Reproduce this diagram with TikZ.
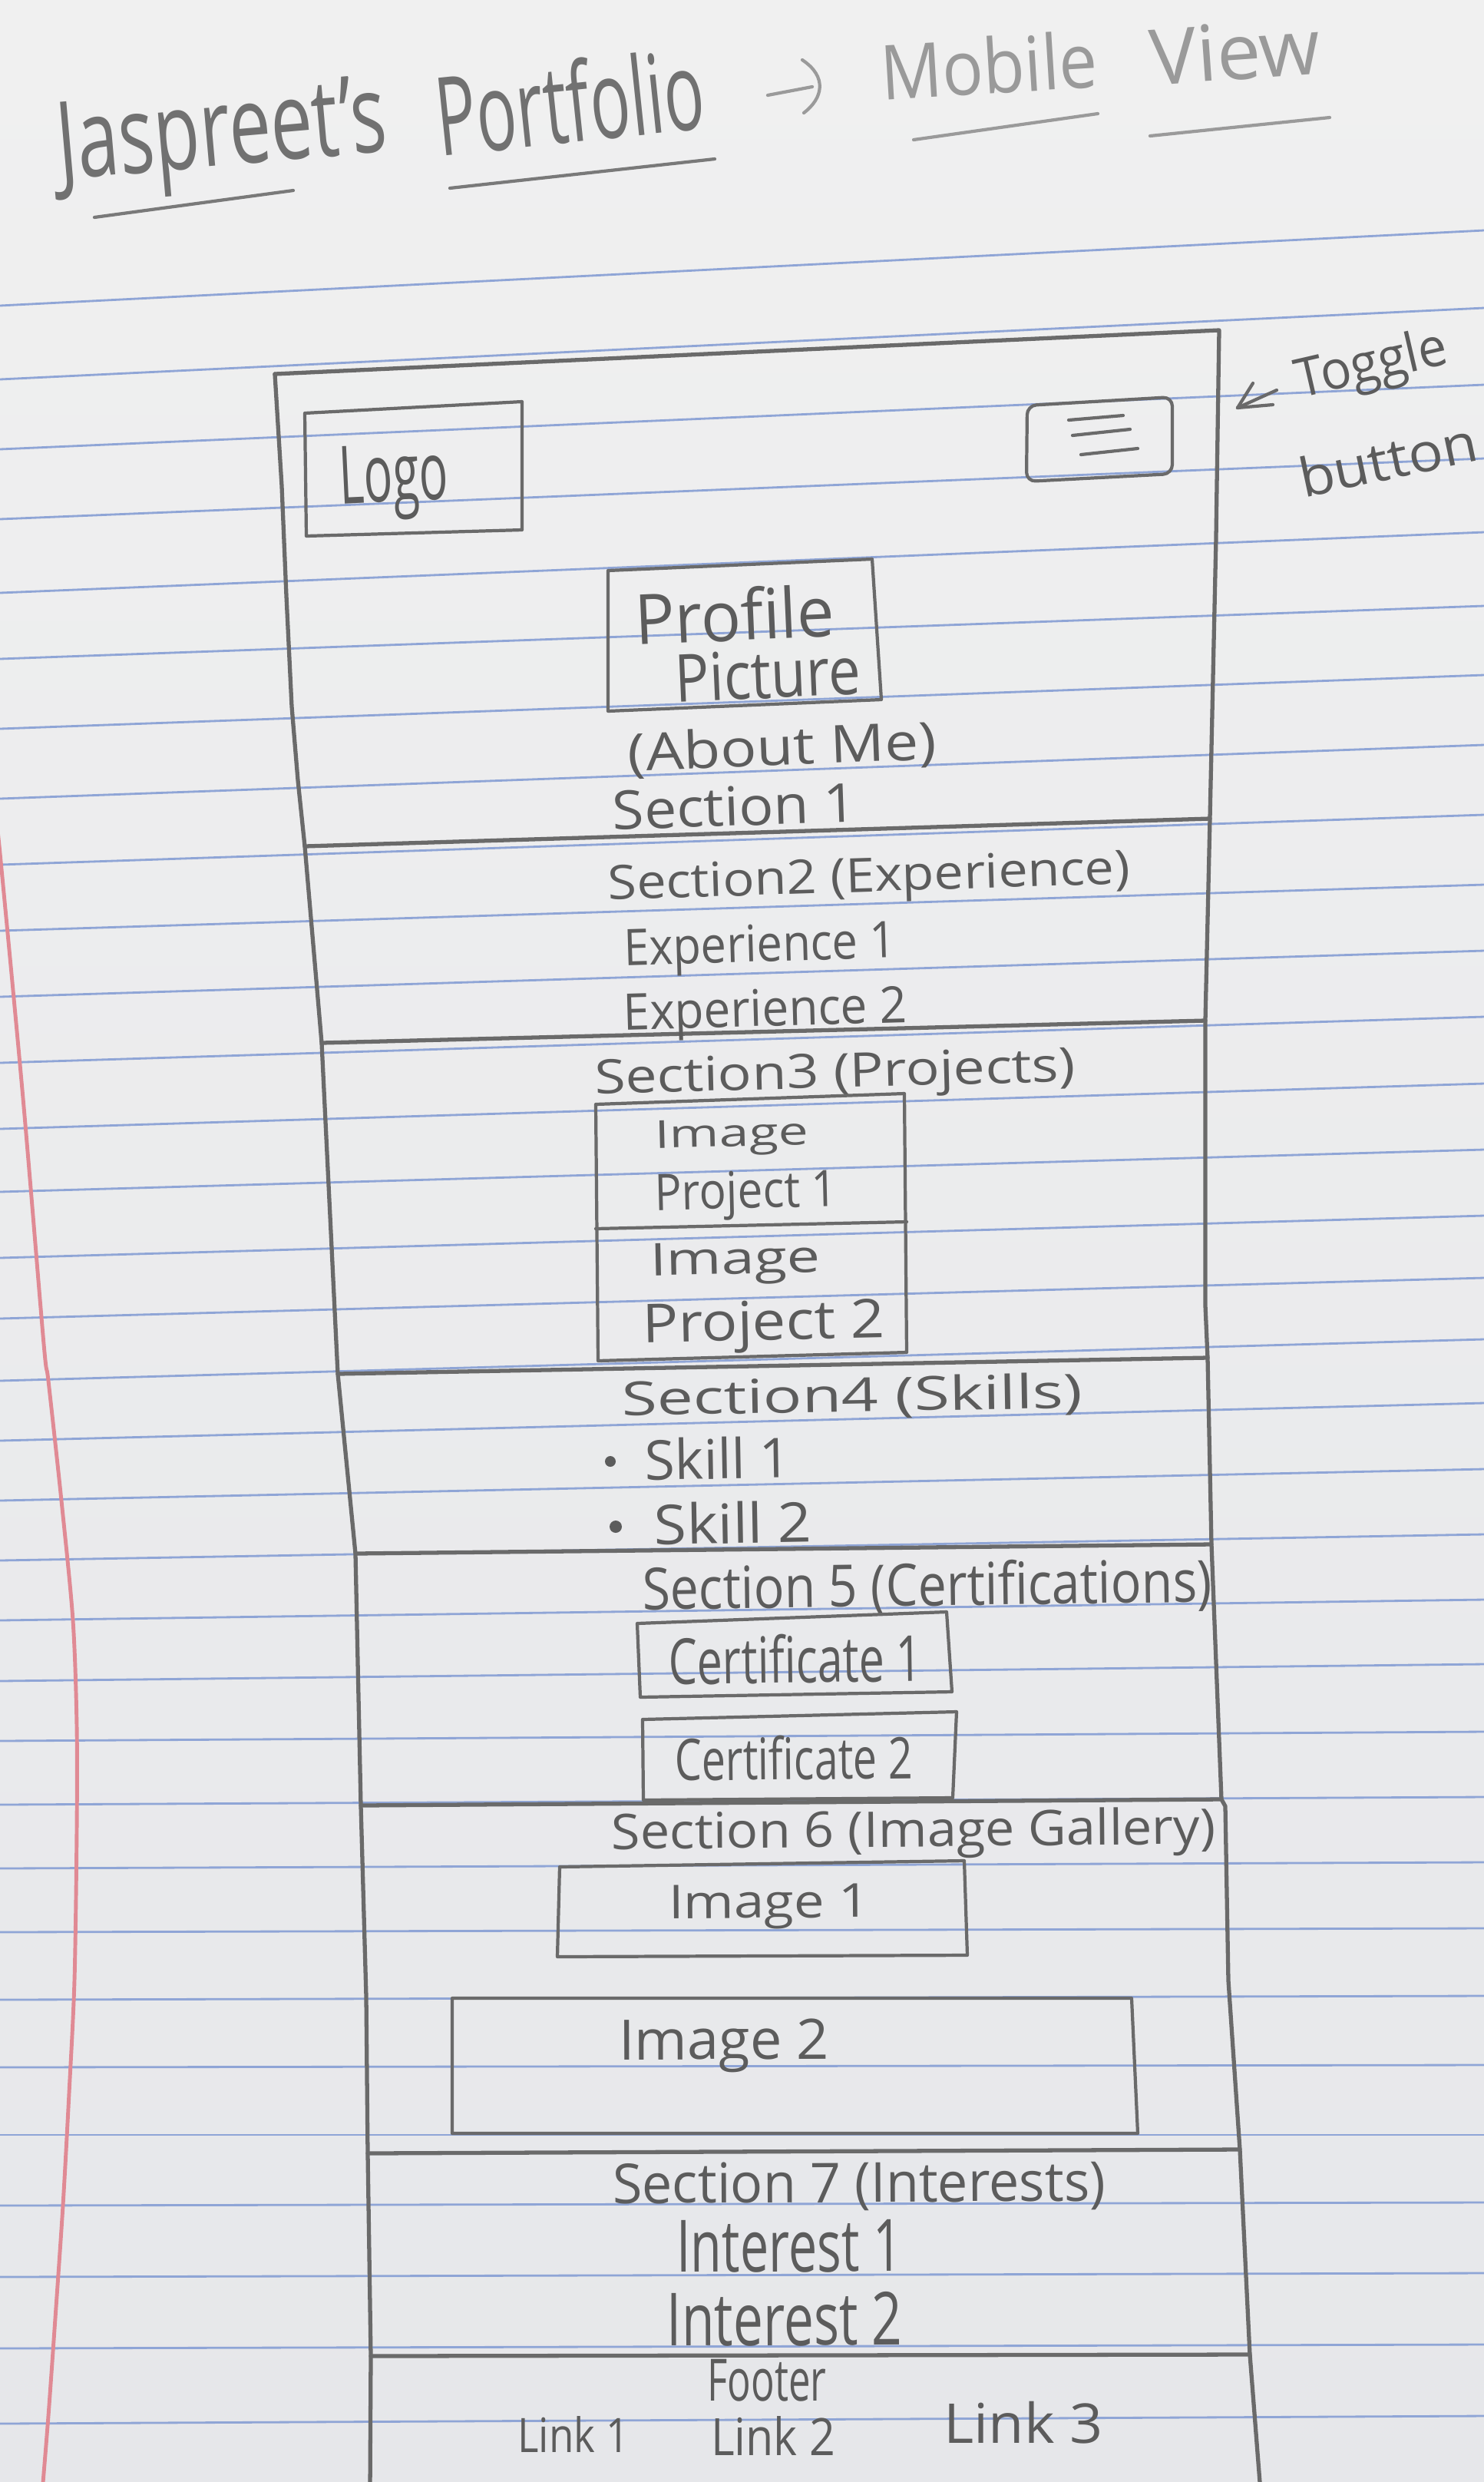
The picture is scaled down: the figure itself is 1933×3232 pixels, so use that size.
\documentclass[tikz,border=0pt]{standalone}
\usepackage{fontspec}
\setmainfont{Open Sans}
\usepackage{graphicx}
\newlength\pxu
\setlength\pxu{0.01cm}
\newcommand{\hw}[3]{\resizebox*{#1\pxu}{#2\pxu}{#3}}
\definecolor{paperT}{HTML}{F0F0F0}
\definecolor{paperB}{HTML}{E6E7EA}
\definecolor{ruleblue}{HTML}{8FA5D6}
\definecolor{marginred}{HTML}{E08A94}
\definecolor{pencil}{HTML}{6A6A6A}
\definecolor{ink}{HTML}{5C5C5C}
\definecolor{inklight}{HTML}{9A9A9A}
\begin{document}
\begin{tikzpicture}[x=0.01cm,y=-0.01cm,
  rule/.style={draw=ruleblue,line width=0.8pt},
  margin/.style={draw=marginred,line width=1.4pt},
  frame/.style={draw=pencil,line width=1.5pt,line join=round,line cap=round},
  box/.style={draw=pencil,line width=1.2pt,line join=round,line cap=round},
  hand/.style={inner sep=0pt,outer sep=0pt,text=ink},
  handlight/.style={inner sep=0pt,outer sep=0pt,text=inklight}]
\useasboundingbox (0,0) rectangle (1933,3232);
\clip (0,0) rectangle (1933,3232);
% paper
\shade[top color=paperT,bottom color=paperB] (0,0) rectangle (1933,3232);
% ruled lines
\foreach \a/\b in {398/300,494/401,585/501,676/597,772/693,858/789,949/879,1040/970,
  1126/1061,1212/1152,1298/1238,1384/1324,1470/1411,1552/1497,1638/1583,1717/1664,
  1798/1744,1876/1827,1954/1913,2032/1998,2110/2083,2189/2167,2267/2255,2350/2340,
  2433/2425,2516/2511,2604/2599,2692/2689,2780/2780,2872/2868,2965/2960,3058/3053,3156/3146}
  \draw[rule] (0,\a) -- (1933,\b);
% red margin
\draw[margin] plot[smooth] coordinates {(-6,1060) (0,1111) (30,1430) (57,1750) (63,1798) (80,1954) (95,2110) (100,2247) (100,2384) (97,2579) (90,2726) (82,2872) (72,3019) (63,3146) (55,3245)};

% title
\node[hand,text=pencil!95,rotate=5] (tJ) at (290,182) {\hw{430}{135}{Jaspreet's}};
\node[hand,text=pencil!95,rotate=6] (tP) at (742,132) {\hw{350}{110}{Portfolio}};
\draw[box,draw=inklight] (1000,124) -- (1058,113);
\draw[box,draw=inklight] (1045,78) .. controls (1078,100) and (1072,128) .. (1047,147);
\node[handlight,rotate=3.5] (tM) at (1288,85) {\hw{283}{76}{Mobile}};
\node[handlight,rotate=4] (tV) at (1609,67) {\hw{222}{75}{View}};
\draw[box,draw=pencil!90] (123,283) -- (382,248);
\draw[box,draw=pencil!90] (586,245) -- (931,207);
\draw[box,draw=inklight] (1190,182) -- (1430,148);
\draw[box,draw=inklight] (1498,177) -- (1732,153);

% outer frame
\draw[frame] (358,487) -- (1588,430) -- (1584,700) -- (1576,1066) -- (1570,1329) -- (1570,1700)
  -- (1573,1768) -- (1578,2011) -- (1591,2343) -- (1596,2352) -- (1600,2579) -- (1615,2799)
  -- (1628,3066) -- (1642,3245);
\draw[frame] (358,487) -- (367,633) -- (373,776) -- (380,920) -- (388,1016) -- (397,1102)
  -- (419,1358) -- (440,1789) -- (463,2023) -- (470,2351) -- (477,2600) -- (479,2804)
  -- (483,3068) -- (482,3245);
% section dividers
\draw[frame] (397,1102) -- (1576,1066);
\draw[frame] (419,1358) -- (1570,1329);
\draw[frame] (440,1789) -- (1573,1768);
\draw[frame] (463,2023) -- (1578,2011);
\draw[frame] (470,2351) -- (1591,2343);
\draw[frame] (479,2804) -- (1615,2799);
\draw[frame] (483,3068) -- (1628,3066);

% header
\draw[box] (397,538) -- (680,523) -- (680,690) -- (399,698) -- cycle;
\node[hand,rotate=2.7] (logo) at (513,628) {\hw{142}{100}{Logo}};
\draw[box,rounded corners=1.2mm] (1338,528) -- (1527,517) -- (1527,617) -- (1337,627) -- cycle;
\draw[box] (1392,547) -- (1463,541);
\draw[box] (1397,567) -- (1472,559);
\draw[box] (1408,592) -- (1482,584);
% toggle annotation
\coordinate (tip) at (1612,531);
\draw[box] (tip) -- (1663,508);
\draw[box] (tip) -- (1632,499);
\draw[box] (tip) -- (1658,527);
\node[hand,rotate=13] (toggle) at (1787,478) {\hw{200}{70}{Toggle}};
\node[hand,rotate=12] (button) at (1808,598) {\hw{236}{54}{button}};

% section 1
\draw[box] (792,743) -- (1136,728) -- (1148,911) -- (792,926) -- cycle;
\node[hand,rotate=2.5] (prof) at (957,800) {\hw{260}{70}{Profile}};
\node[hand,rotate=2.5] (pict) at (1000,878) {\hw{242}{64}{Picture}};
\node[hand,rotate=2.2] (about) at (1019,976) {\hw{402}{62}{(About Me)}};
\node[hand,rotate=2] (s1) at (957,1050) {\hw{318}{52}{Section 1}};

% section 2
\node[hand,rotate=1.8] (s2) at (1132,1146) {\hw{680}{60}{Section2 (Experience)}};
\node[hand,rotate=1.7] (e1) at (990,1236) {\hw{355}{64}{Experience 1}};
\node[hand,rotate=1.6] (e2) at (997,1320) {\hw{370}{64}{Experience 2}};

% section 3
\node[hand,rotate=1.5] (s3) at (1088,1401) {\hw{626}{60}{Section3 (Projects)}};
\draw[box] (776,1438) -- (1178,1424) -- (1181,1761) -- (779,1772) -- cycle;
\draw[box] (776,1600) -- (1181,1591);
\node[hand,rotate=1.4] (im1) at (953,1481) {\hw{200}{48}{Image}};
\node[hand,rotate=1.4] (p1) at (972,1557) {\hw{238}{64}{Project 1}};
\node[hand,rotate=1.3] (im2) at (958,1645) {\hw{222}{56}{Image}};
\node[hand,rotate=1.2] (p2) at (995,1728) {\hw{316}{68}{Project 2}};

% section 4
\node[hand,rotate=1] (s4) at (1110,1820) {\hw{600}{56}{Section4 (Skills)}};
\fill[ink] (795,1903) circle (7);
\node[hand,rotate=1] (sk1) at (935,1899) {\hw{190}{55}{Skill 1}};
\fill[ink] (802,1988) circle (8);
\node[hand,rotate=1] (sk2) at (955,1983) {\hw{205}{55}{Skill 2}};

% section 5
\node[hand,rotate=0.8] (s5) at (1208,2068) {\hw{742}{70}{Section 5 (Certifications)}};
\draw[box] (830,2114) -- (1233,2099) -- (1240,2203) -- (834,2210) -- cycle;
\node[hand,rotate=0.8] (c1) at (1036,2160) {\hw{330}{64}{Certificate 1}};
\draw[box] (837,2239) -- (1246,2229) -- (1241,2341) -- (838,2344) -- cycle;
\node[hand,rotate=0.6] (c2) at (1034,2289) {\hw{310}{58}{Certificate 2}};

% section 6
\node[hand,rotate=0.5] (s6) at (1190,2388) {\hw{787}{64}{Section 6 (Image Gallery)}};
\draw[box] (729,2431) -- (1256,2423) -- (1260,2546) -- (726,2548) -- cycle;
\node[hand,rotate=0.4] (g1) at (1002,2483) {\hw{262}{58}{Image 1}};
\draw[box] (589,2602) -- (1474,2602) -- (1482,2778) -- (589,2778) -- cycle;
\node[hand,rotate=0.2] (g2) at (943,2664) {\hw{274}{70}{Image 2}};

% section 7
\node[hand,rotate=0.3] (s7) at (1119,2847) {\hw{642}{64}{Section 7 (Interests)}};
\node[hand,rotate=0.2] (i1) at (1028,2925) {\hw{294}{68}{Interest 1}};
\node[hand,rotate=0.2] (i2) at (1022,3020) {\hw{307}{70}{Interest 2}};

% footer
\node[hand] (foot) at (999,3100) {\hw{155}{55}{Footer}};
\node[hand] (l1) at (747,3170) {\hw{145}{47}{Link 1}};
\node[hand] (l2) at (1007,3172) {\hw{162}{51}{Link 2}};
\node[hand] (l3) at (1333,3155) {\hw{207}{55}{Link 3}};
\end{tikzpicture}
\end{document}
